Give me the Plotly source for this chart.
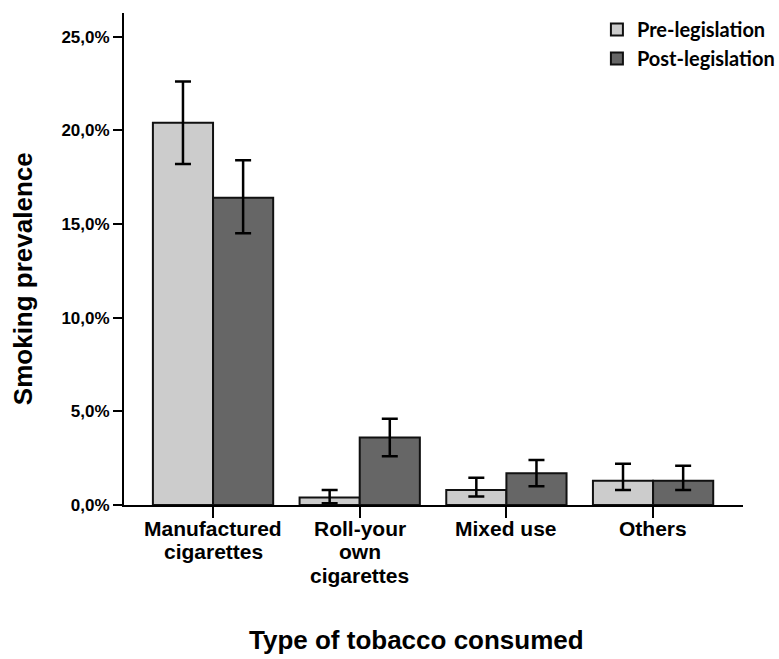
import plotly.graph_objects as go

# Tobacco type categories (labels split over lines as printed under the axis)
categories = ["Manufactured\ncigarettes", "Roll-your\nown\ncigarettes", "Mixed use", "Others"]

# Smoking prevalence (%) with 95% confidence limits
pre_values = [20.4, 0.4, 0.8, 1.3]
pre_ci_low = [18.2, 0.1, 0.45, 0.8]
pre_ci_high = [22.6, 0.8, 1.45, 2.2]

post_values = [16.4, 3.6, 1.7, 1.3]
post_ci_low = [14.5, 2.6, 1.0, 0.8]
post_ci_high = [18.4, 4.6, 2.4, 2.1]

series_names = ["Pre-legislation", "Post-legislation"]
series_colors = ["#cccccc", "#666666"]

y_tick_values = [0, 5, 10, 15, 20, 25]
y_tick_labels = ["0,0%", "5,0%", "10,0%", "15,0%", "20,0%", "25,0%"]

x_title = "Type of tobacco consumed"
y_title = "Smoking prevalence"

SANS = "Liberation Sans, Arial, sans-serif"

fig = go.Figure()
for name, color, vals, lo, hi in [
    (series_names[0], series_colors[0], pre_values, pre_ci_low, pre_ci_high),
    (series_names[1], series_colors[1], post_values, post_ci_low, post_ci_high),
]:
    fig.add_trace(go.Bar(
        name=name,
        x=categories,
        y=vals,
        marker=dict(color=color, line=dict(color="#111111", width=2)),
        error_y=dict(
            type="data",
            symmetric=False,
            array=[h - v for h, v in zip(hi, vals)],
            arrayminus=[v - l for v, l in zip(vals, lo)],
            color="black",
            thickness=2.5,
            width=8,
        ),
    ))

# Category labels under the axis, one text line each for tight line spacing
annotations = []
for cat in categories:
    for i, line in enumerate(cat.split("\n")):
        annotations.append(dict(
            x=cat, xref="x", y=0, yref="paper",
            text=line, showarrow=False,
            xanchor="center", yanchor="middle",
            yshift=-23 - 23.6 * i,
            font=dict(family=SANS, size=21, color="black", weight="bold"),
        ))

annotations.append(dict(
    x=0.473, xref="paper", y=-0.275, yref="paper",
    text=x_title, showarrow=False, xanchor="center", yanchor="middle",
    font=dict(family=SANS, size=26, color="black", weight="bold"),
))
annotations.append(dict(
    x=-0.164, xref="paper", y=0.46, yref="paper",
    text=y_title, showarrow=False, textangle=-90,
    xanchor="center", yanchor="middle",
    font=dict(family=SANS, size=26, color="black", weight="bold"),
))

fig.update_layout(
    width=779,
    height=659,
    margin=dict(l=124, r=36, t=13, b=154, autoexpand=False),
    paper_bgcolor="white",
    plot_bgcolor="white",
    barmode="group",
    bargap=0.18,
    bargroupgap=0,
    showlegend=True,
    legend=dict(
        x=0.764, xanchor="left", y=1.006, yanchor="top",
        font=dict(family="Lato, Calibri, sans-serif", size=20, color="black", weight="bold"),
        bgcolor="rgba(0,0,0,0)",
        itemwidth=30,
        tracegroupgap=0,
    ),
    annotations=annotations,
    xaxis=dict(
        type="category",
        range=[-0.607, 3.613],
        showline=True, linecolor="black", linewidth=2,
        ticks="outside", ticklen=11, tickwidth=2, tickcolor="black",
        showticklabels=False,
        showgrid=False, zeroline=False,
    ),
    yaxis=dict(
        range=[0, 26.26],
        showline=True, linecolor="black", linewidth=2,
        ticks="outside", ticklen=9, tickwidth=2, tickcolor="black",
        tickvals=y_tick_values, ticktext=y_tick_labels,
        tickfont=dict(family=SANS, size=17, color="black", weight="bold"),
        showgrid=False, zeroline=False,
    ),
)

fig.write_html("out.html")
